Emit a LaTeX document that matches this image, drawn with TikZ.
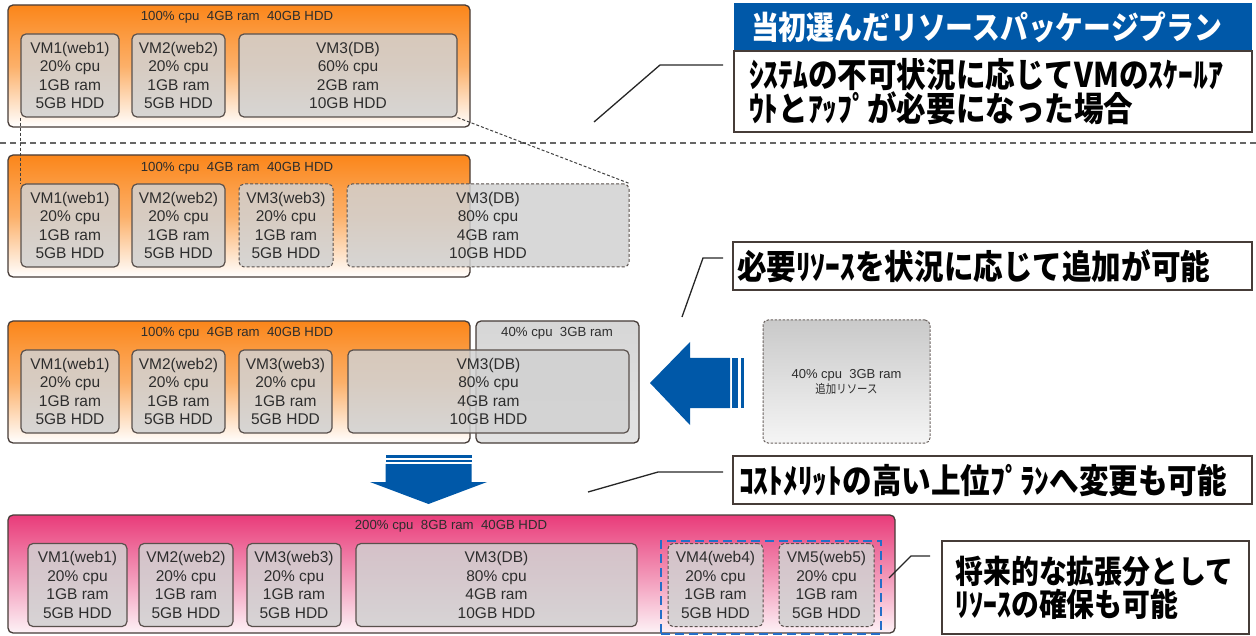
\documentclass[tikz,border=0pt]{standalone}
\usepackage{fontspec}
\setmainfont{Liberation Sans}
\newfontfamily\jpfont{Noto Sans CJK JP}[FakeStretch=0.87]
\usepackage{tikz}
\usetikzlibrary{positioning, calc}
\usepackage{xcolor}
\definecolor{plan}{RGB}{251,134,26}
\definecolor{planmid}{RGB}{252,176,105}
\definecolor{upgrade}{RGB}{233,60,122}
\definecolor{upgrademid}{RGB}{242,148,182}
\definecolor{upgradebot}{RGB}{253,242,246}
\definecolor{navy}{RGB}{0,88,168}
\definecolor{spare}{RGB}{36,110,200}
\definecolor{frame}{RGB}{70,60,56}
\definecolor{ink}{RGB}{45,45,45}
\newcommand{\vmfont}{\fontsize{15.5}{18.5}\selectfont}
\newcommand{\hdfont}{\fontsize{13.2}{15}\selectfont}
\newcommand{\jpbig}[1]{\fontsize{#1}{33}\jpfont\bfseries}
\tikzset{
    host/.style = {rectangle, rounded corners=5pt, draw=frame, line width=1.3pt,
                   top color=plan, bottom color=white, middle color=planmid},
    hostup/.style = {host, top color=upgrade, bottom color=upgradebot, middle color=upgrademid},
    addon/.style = {host, top color=black!16, bottom color=black!11},
    vm/.style = {rectangle, rounded corners=5pt, draw=frame!90, line width=1.2pt,
                 fill=black!18, fill opacity=0.85, text opacity=1, text=ink,
                 align=center, inner sep=0pt, minimum height=83pt, font=\vmfont},
    vmnew/.style = {vm, dash pattern=on 3pt off 2pt, line width=1pt},
    extra/.style = {rectangle, rounded corners=5pt, draw=frame!80, line width=1pt,
                    dash pattern=on 2.5pt off 1.5pt, top color=black!21, bottom color=black!4,
                    align=center, text=ink, font=\fontsize{13}{15}\selectfont},
    hdr/.style = {inner sep=0pt, text=ink, font=\hdfont},
    title/.style = {rectangle, fill=navy, text=white, align=left, inner ysep=0pt,
                    font=\jpbig{32}},
    note/.style = {rectangle, draw=frame, line width=1.3pt, fill=white, align=left,
                   inner ysep=0pt, font=\jpbig{34}},
    reserve/.style = {rectangle, draw=spare, line width=2.6pt, dash pattern=on 9pt off 5pt},
    leader/.style = {draw=black!85, line width=1.3pt},
    zoomline/.style = {draw=black!75, line width=1pt, dash pattern=on 3pt off 2pt}
    }

\begin{document}
\begin{tikzpicture}[
      x = 1pt, y = -1pt, % pixel grid, y pointing down
      semithick
    ]
    \useasboundingbox (0,0) rectangle (1256,636);

    % plan chosen first
    \node[host, minimum width=462pt, minimum height=122pt] (h1) at (239,66) {};
    \node[hdr] (t1) at (237,17) {100\% cpu\ \ 4GB ram\ \ 40GB HDD};
    \node[vm, minimum width=98pt] (a1) at (70,75.5) {VM1(web1)\\20\% cpu\\1GB ram\\5GB HDD};
    \node[vm, minimum width=93pt] (a2) at (178.5,75.5) {VM2(web2)\\20\% cpu\\1GB ram\\5GB HDD};
    \node[vm, minimum width=218pt] (a3) at (348,75.5) {VM3(DB)\\60\% cpu\\2GB ram\\10GB HDD};

    \draw[black!60, line width=1.2pt, dash pattern=on 6pt off 4pt] (0,143) -- (1256,143);

    % scale out and up
    \node[host, minimum width=462pt, minimum height=122pt] (h2) at (239,216) {};
    \node[hdr] (t2) at (237,168) {100\% cpu\ \ 4GB ram\ \ 40GB HDD};
    \node[vm, minimum width=98pt] (b1) at (70,225.5) {VM1(web1)\\20\% cpu\\1GB ram\\5GB HDD};
    \node[vm, minimum width=93pt] (b2) at (178.5,225.5) {VM2(web2)\\20\% cpu\\1GB ram\\5GB HDD};
    \node[vmnew, minimum width=94pt] (b3) at (286,225.5) {VM3(web3)\\20\% cpu\\1GB ram\\5GB HDD};
    \node[vmnew, minimum width=282pt] (b4) at (488,225.5) {VM3(DB)\\80\% cpu\\4GB ram\\10GB HDD};

    % added resources
    \node[host, minimum width=462pt, minimum height=122pt] (h3) at (239,382) {};
    \node[addon, minimum width=163pt, minimum height=122pt] (h3x) at (557.5,382) {};
    \node[hdr] (t3) at (237,333) {100\% cpu\ \ 4GB ram\ \ 40GB HDD};
    \node[hdr] (t3x) at (557,333) {40\% cpu\ \ 3GB ram};
    \node[vm, minimum width=98pt] (c1) at (70,391.5) {VM1(web1)\\20\% cpu\\1GB ram\\5GB HDD};
    \node[vm, minimum width=93pt] (c2) at (178.5,391.5) {VM2(web2)\\20\% cpu\\1GB ram\\5GB HDD};
    \node[vm, minimum width=93pt] (c3) at (285.5,391.5) {VM3(web3)\\20\% cpu\\1GB ram\\5GB HDD};
    \node[vm, minimum width=281pt] (c4) at (488.5,391.5) {VM3(DB)\\80\% cpu\\4GB ram\\10GB HDD};

    \node[extra, minimum width=167pt, minimum height=123pt] (x0) at (846.5,381.5)
        {40\% cpu\ \ 3GB ram\\{\jpfont\fontsize{12}{15}\selectfont 追加リソース}};
    \fill[navy] (650,383) -- (690,342) -- (690,358) -- (730,358) -- (730,408)
        -- (690,408) -- (690,425) -- cycle;
    \fill[navy] (732,358) rectangle (738,408);
    \fill[navy] (741,358) rectangle (744,408);

    % upper plan
    \fill[navy] (385.5,464) -- (471.5,464) -- (471.5,482) -- (487,482) -- (428.5,504)
        -- (370,482) -- (385.5,482) -- cycle;
    \fill[navy] (385.5,455) rectangle (471.5,457.5);
    \fill[navy] (385.5,459.5) rectangle (471.5,462);

    \node[hostup, minimum width=887pt, minimum height=118pt] (h4) at (451.5,574) {};
    \node[hdr] (t4) at (451,526) {200\% cpu\ \ 8GB ram\ \ 40GB HDD};
    \node[vm, minimum width=99pt] (d1) at (77.5,585) {VM1(web1)\\20\% cpu\\1GB ram\\5GB HDD};
    \node[vm, minimum width=94pt] (d2) at (186,585) {VM2(web2)\\20\% cpu\\1GB ram\\5GB HDD};
    \node[vm, minimum width=94pt] (d3) at (294,585) {VM3(web3)\\20\% cpu\\1GB ram\\5GB HDD};
    \node[vm, minimum width=281pt] (d4) at (496.5,585) {VM3(DB)\\80\% cpu\\4GB ram\\10GB HDD};
    \node[vmnew, minimum width=95pt] (d5) at (715.5,585) {VM4(web4)\\20\% cpu\\1GB ram\\5GB HDD};
    \node[vmnew, minimum width=95pt] (d6) at (826.5,585) {VM5(web5)\\20\% cpu\\1GB ram\\5GB HDD};
    \node[reserve, minimum width=220pt, minimum height=93pt] (r0) at (771,587.5) {};

    % notes
    \node[title, text width=484pt, inner xsep=17pt, minimum height=48pt] (n0) at (993,27)
        {当初選んだリソースパッケージプラン};
    \node[note, text width=488pt, inner xsep=15pt, minimum height=81pt] (n1) at (993,91.5)
        {ｼｽﾃﾑの不可状況に応じてVMのｽｹｰﾙｱ\\ｳﾄとｱｯﾌﾟが必要になった場合};
    \node[note, text width=511pt, inner xsep=4pt, minimum height=48pt] (n2) at (992.5,266)
        {必要ﾘｿｰｽを状況に応じて追加が可能};
    \node[note, text width=507pt, inner xsep=6pt, minimum height=48pt] (n3) at (992.5,480)
        {ｺｽﾄﾒﾘｯﾄの高い上位ﾌﾟﾗﾝへ変更も可能};
    \node[note, text width=280pt, inner xsep=13.5pt, minimum height=93pt, font=\jpbig{32}]
        (n4) at (1095.5,587.5) {将来的な拡張分として\\ﾘｿｰｽの確保も可能};

    \coordinate (p1) at (594,122); \coordinate (q1) at (660,65); \coordinate (r1) at (723,65);
    \coordinate (p2) at (682,317); \coordinate (q2) at (703,258); \coordinate (r2) at (723,258);
    \coordinate (p3) at (588,492); \coordinate (q3) at (658,472); \coordinate (r3) at (723,472);
    \coordinate (p4) at (889,578); \coordinate (q4) at (911,556); \coordinate (r4) at (930,556);
    \draw[leader] (p1) -- (q1) -- (r1);
    \draw[leader] (p2) -- (q2) -- (r2);
    \draw[leader] (p3) -- (q3) -- (r3);
    \draw[leader] (p4) -- (q4) -- (r4);

    \draw[zoomline] (a1.south west) -- (b1.north west);
    \draw[zoomline] (a3.south east) -- (b4.north east);

\end{tikzpicture}
\end{document}
